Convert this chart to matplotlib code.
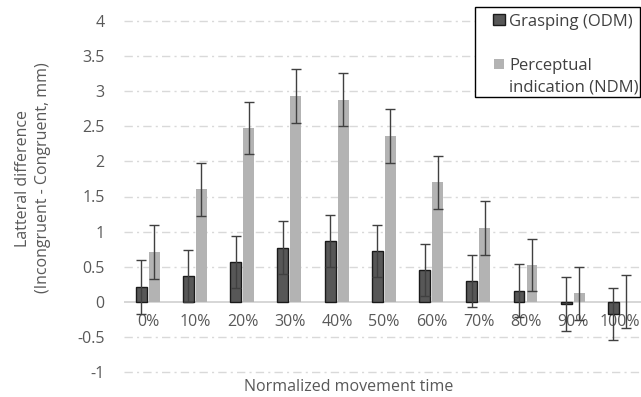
import numpy as np
import matplotlib
matplotlib.use('Agg')
import matplotlib.pyplot as plt
from matplotlib.patches import Rectangle

plt.rcParams['font.family'] = ['Open Sans', 'DejaVu Sans']

# Data
categories = ['0%', '10%', '20%', '30%', '40%', '50%', '60%', '70%', '80%', '90%', '100%']
odm = [0.21, 0.37, 0.57, 0.77, 0.87, 0.73, 0.45, 0.29, 0.16, -0.03, -0.18]
odm_err = [0.38, 0.37, 0.37, 0.38, 0.37, 0.37, 0.37, 0.37, 0.38, 0.38, 0.37]
ndm = [0.71, 1.60, 2.47, 2.93, 2.88, 2.36, 1.70, 1.05, 0.52, 0.12, 0.0]
ndm_err = [0.38, 0.38, 0.37, 0.38, 0.38, 0.38, 0.38, 0.38, 0.37, 0.38, 0.38]
yticks = [-1, -0.5, 0, 0.5, 1, 1.5, 2, 2.5, 3, 3.5, 4]
legend_labels = ['Grasping (ODM)', 'Perceptual', 'indication (NDM)']

text_col = '#595959'
dark = '#575757'
light = '#b3b3b3'
err_col = '#404040'

W, H = 641, 397
fig = plt.figure(figsize=(6.41, 3.97), dpi=100)
ax = fig.add_axes([124 / W, 1 - 372 / H, (W - 124) / W, (372 - 21) / H])

x = np.arange(len(categories))
w = 0.23
ax.bar(x - 0.145, odm, w, color=dark, edgecolor='#1a1a1a', linewidth=1, zorder=3)
ax.bar(x + 0.13, ndm, w, color=light, zorder=3)
ax.errorbar(x - 0.145, odm, yerr=odm_err, fmt='none', ecolor=err_col,
            elinewidth=1, capsize=3.5, capthick=1, zorder=4)
ax.errorbar(x + 0.13, ndm, yerr=ndm_err, fmt='none', ecolor=err_col,
            elinewidth=1, capsize=3.5, capthick=1, zorder=4)

ax.set_xlim(-0.51, 10.44)
ax.set_ylim(-1, 4)
ax.set_yticks(yticks)
ax.set_yticklabels([f'{t:g}' for t in yticks])
ax.set_xticks(x)
ax.set_xticklabels(categories)

for t in yticks:
    if t == 0:
        ax.axhline(0, color='#d0d0d0', lw=1.2, zorder=2)
    else:
        ax.axhline(t, color='#d9d9d9', lw=1, linestyle=(0, (6, 3, 1.5, 3)), zorder=1, clip_on=False)

for s in ax.spines.values():
    s.set_visible(False)
ax.spines['bottom'].set_position(('data', 0))
ax.tick_params(axis='both', length=0, labelsize=11.5, colors=text_col)
ax.tick_params(axis='y', pad=14)
ax.tick_params(axis='x', pad=9)

fig.text(349 / W, 1 - 387 / H, 'Normalized movement time', ha='center', va='center',
         fontsize=11.5, color=text_col)
fig.text(33 / W, 1 - 178 / H, 'Latteral difference\n(Incongruent - Congruent, mm)',
         ha='center', va='center', rotation=90, fontsize=11.5, color=text_col,
         linespacing=1.35)

# legend drawn by hand, Excel style (swatch next to first line)
fig.add_artist(Rectangle((475 / W, 1 - 97 / H), 165 / W, 90 / H, transform=fig.transFigure,
                         facecolor='white', edgecolor='black', linewidth=1, zorder=10))
fig.add_artist(Rectangle((493 / W, 1 - 25 / H), 12 / W, 11 / H, transform=fig.transFigure,
                         facecolor=dark, edgecolor='#1a1a1a', linewidth=1, zorder=11))
fig.add_artist(Rectangle((494 / W, 1 - 69 / H), 10 / W, 10 / H, transform=fig.transFigure,
                         facecolor=light, edgecolor='none', zorder=11))
for lab, yb in zip(legend_labels, [26, 70, 92]):
    fig.text(509 / W, 1 - yb / H, lab, ha='left', va='baseline', fontsize=12,
             color='#404040', zorder=12)

fig.savefig('out.png', dpi=100)
